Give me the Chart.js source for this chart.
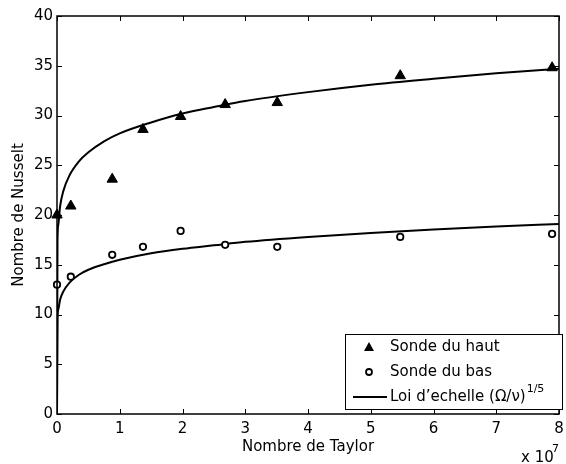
<!DOCTYPE html>
<html>
<head>
<meta charset="utf-8">
<script src="https://cdn.jsdelivr.net/npm/chart.js@4"></script>
<style>
  html, body { margin: 0; padding: 0; background: #fff; }
  #wrap { width: 566px; height: 464px; }
</style>
</head>
<body>
<div id="wrap"><canvas id="chart" width="566" height="464"></canvas></div>
<script>
// Nombre de Taylor (x 10^7)
const taylor = [0, 0.22, 0.88, 1.37, 1.97, 2.68, 3.51, 5.47, 7.89];
const sondeHaut = [20.0, 20.9, 23.6, 28.6, 29.9, 31.1, 31.3, 34.0, 34.8];
const sondeBas = [13.0, 13.8, 16.0, 16.8, 18.4, 17.0, 16.8, 17.8, 18.1];

// loi d'echelle
const loiX = [0, 0.008, 0.02, 0.05, 0.1, 0.2, 0.35, 0.5, 0.75, 1, 1.5, 2, 2.5, 3, 4, 5, 6, 7, 8];
const loiHaut = [0, 17.4, 19.0, 20.9, 22.4, 24.0, 25.4, 26.3, 27.4, 28.2, 29.3, 30.2, 30.85, 31.45, 32.35, 33.1, 33.7, 34.25, 34.7];
const loiBas = [0, 9.6, 10.5, 11.5, 12.3, 13.2, 14.0, 14.5, 15.05, 15.5, 16.15, 16.6, 16.95, 17.3, 17.8, 18.2, 18.55, 18.85, 19.1];

const FONT = '"DejaVu Sans", Arial, sans-serif';

function pts(xs, ys) {
  return xs.map((x, i) => ({ x: x, y: ys[i] }));
}

// cadre + graduations vers l'interieur (style matlab)
const framePlugin = {
  id: 'frame',
  afterDraw(chart) {
    const { ctx, chartArea: a, scales } = chart;
    ctx.save();
    ctx.strokeStyle = '#000';
    ctx.lineWidth = 1;
    scales.x.ticks.forEach(t => {
      const px = Math.round(scales.x.getPixelForValue(t.value)) + 0.5;
      ctx.beginPath();
      ctx.moveTo(px, a.bottom); ctx.lineTo(px, a.bottom - 5);
      ctx.moveTo(px, a.top); ctx.lineTo(px, a.top + 5);
      ctx.stroke();
    });
    scales.y.ticks.forEach(t => {
      const py = Math.round(scales.y.getPixelForValue(t.value)) + 0.5;
      ctx.beginPath();
      ctx.moveTo(a.left, py); ctx.lineTo(a.left + 5, py);
      ctx.moveTo(a.right, py); ctx.lineTo(a.right - 5, py);
      ctx.stroke();
    });
    ctx.lineWidth = 1.5;
    ctx.strokeRect(a.left, a.top, a.right - a.left, a.bottom - a.top);

    // exposant de l'axe x
    ctx.fillStyle = '#000';
    ctx.textBaseline = 'alphabetic';
    ctx.textAlign = 'left';
    ctx.font = '15px ' + FONT;
    ctx.fillText('x 10', 521, 462);
    ctx.font = '11px ' + FONT;
    ctx.fillText('7', 552, 452);

    // legende
    const lx = 345, ly = 334, lw = 217, lh = 75;
    ctx.fillStyle = '#fff';
    ctx.fillRect(lx, ly, lw, lh);
    ctx.lineWidth = 1;
    ctx.strokeStyle = '#000';
    ctx.strokeRect(lx + 0.5, ly + 0.5, lw, lh);

    const rows = [ly + 13, ly + 38, ly + 63];
    ctx.fillStyle = '#000';
    // triangle
    ctx.beginPath();
    ctx.moveTo(369, rows[0] - 5);
    ctx.lineTo(374, rows[0] + 4);
    ctx.lineTo(364, rows[0] + 4);
    ctx.closePath();
    ctx.fill();
    // cercle
    ctx.beginPath();
    ctx.lineWidth = 1.8;
    ctx.arc(369, rows[1], 3, 0, Math.PI * 2);
    ctx.stroke();
    // ligne
    ctx.beginPath();
    ctx.lineWidth = 2;
    ctx.moveTo(353, rows[2]); ctx.lineTo(387, rows[2]);
    ctx.stroke();

    ctx.font = '15px ' + FONT;
    ctx.textBaseline = 'middle';
    ctx.fillText('Sonde du haut', 390, rows[0]);
    ctx.fillText('Sonde du bas', 390, rows[1]);
    const txt = 'Loi d\u2019echelle (\u03A9/\u03BD)';
    ctx.fillText(txt, 390, rows[2]);
    const w = ctx.measureText(txt).width;
    ctx.font = '11px ' + FONT;
    ctx.fillText('1/5', 390 + w + 1, rows[2] - 8);
    ctx.restore();
  }
};

new Chart(document.getElementById('chart'), {
  type: 'scatter',
  data: {
    datasets: [
      {
        label: 'Sonde du haut',
        data: pts(taylor, sondeHaut),
        pointStyle: 'triangle',
        pointRadius: 6,
        backgroundColor: '#000',
        borderColor: '#000',
        borderWidth: 1,
        showLine: false,
        clip: false
      },
      {
        label: 'Sonde du bas',
        data: pts(taylor, sondeBas),
        pointStyle: 'circle',
        pointRadius: 3.2,
        backgroundColor: '#fff',
        borderColor: '#000',
        borderWidth: 1.8,
        showLine: false,
        clip: false
      },
      {
        label: 'Loi d\u2019echelle',
        data: pts(loiX, loiHaut),
        showLine: true,
        pointRadius: 0,
        borderColor: '#000',
        borderWidth: 2,
        cubicInterpolationMode: 'monotone'
      },
      {
        label: 'Loi d\u2019echelle bas',
        data: pts(loiX, loiBas),
        showLine: true,
        pointRadius: 0,
        borderColor: '#000',
        borderWidth: 2,
        cubicInterpolationMode: 'monotone'
      }
    ]
  },
  options: {
    responsive: false,
    animation: false,
    devicePixelRatio: 1,
    layout: { padding: { top: 16, right: 3, left: 0, bottom: 0 } },
    plugins: {
      legend: { display: false },
      tooltip: { enabled: false }
    },
    scales: {
      x: {
        type: 'linear',
        min: 0,
        max: 8,
        ticks: { stepSize: 1, color: '#000', padding: 6, font: { family: FONT, size: 15 } },
        grid: { display: false, drawTicks: false },
        border: { display: false },
        title: {
          display: true,
          text: 'Nombre de Taylor',
          color: '#000',
          font: { family: FONT, size: 15 },
          padding: { top: 0, bottom: 8 }
        },
        afterFit(scale) {
          scale.height = 50;
          scale.paddingLeft = 0;
          scale.paddingRight = 0;
        }
      },
      y: {
        type: 'linear',
        min: 0,
        max: 40,
        ticks: { stepSize: 5, color: '#000', padding: 4, font: { family: FONT, size: 15 } },
        grid: { display: false, drawTicks: false },
        border: { display: false },
        title: {
          display: true,
          text: 'Nombre de Nusselt',
          color: '#000',
          font: { family: FONT, size: 15 },
          padding: { top: 10, bottom: 0 }
        },
        afterFit(scale) {
          scale.width = 57;
          scale.paddingTop = 0;
          scale.paddingBottom = 0;
        }
      }
    }
  },
  plugins: [framePlugin]
});
</script>
</body>
</html>
